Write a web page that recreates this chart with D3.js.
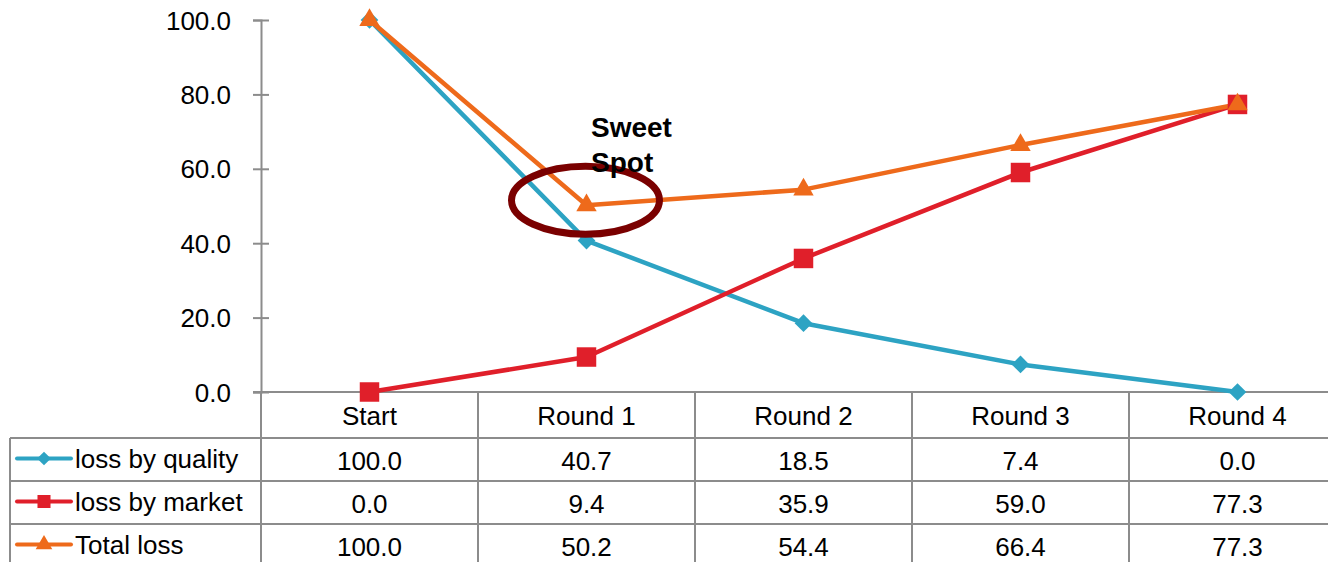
<!DOCTYPE html>
<html>
<head>
<meta charset="utf-8">
<script src="https://cdn.jsdelivr.net/npm/d3@7"></script>
<style>
  html, body { margin: 0; padding: 0; background: #fff; }
  svg { display: block; font-family: "Liberation Sans", Arial, sans-serif; }
</style>
</head>
<body>
<svg id="chart" width="1328" height="562"></svg>
<script>
// Categories and series
const categories = ["Start", "Round 1", "Round 2", "Round 3", "Round 4"];
const lossByQuality = [100.0, 40.7, 18.5, 7.4, 0.0];
const lossByMarket = [0.0, 9.4, 35.9, 59.0, 77.3];
const totalLoss = [100.0, 50.2, 54.4, 66.4, 77.3];
const yTicks = [0, 20, 40, 60, 80, 100];

const seriesList = [
  { name: "loss by quality", values: lossByQuality, color: "#2DA3C3", shape: d3.symbolDiamond2, size: 200, legendSize: 120 },
  { name: "loss by market", values: lossByMarket, color: "#E01F2A", shape: d3.symbolSquare, size: 380, legendSize: 170 },
  { name: "Total loss", values: totalLoss, color: "#EE6A1B", shape: d3.symbolTriangle, size: 180, legendSize: 120 }
];

const FS = 26;
const svg = d3.select("#chart");
const gridColor = "#8c8c8c";

const x = d3.scaleBand().domain(categories).range([261, 1346]);
const y = d3.scaleLinear().domain([0, 100]).range([392, 20]);

// Y axis
const yAxis = d3.axisLeft(y).tickValues(yTicks).tickFormat(d3.format(".1f")).tickSize(8).tickPadding(22);
const gy = svg.append("g").attr("transform", "translate(261,0)").call(yAxis);
gy.select(".domain").attr("stroke", gridColor).attr("stroke-width", 2);
gy.selectAll(".tick line").attr("stroke", gridColor).attr("stroke-width", 2).attr("x1", 8).attr("x2", -8);
gy.selectAll(".tick text").attr("font-size", FS).attr("fill", "#000").attr("dy", "0.35em")
  .attr("font-family", "Liberation Sans, Arial, sans-serif");

// Data table beneath the plot
const rowTops = [392, 438, 481, 524, 567];
const tableLeft = 10;
const tableRight = 1346;

const table = svg.append("g");
rowTops.forEach((t, i) => {
  table.append("line")
    .attr("x1", i === 0 ? 253 : tableLeft).attr("x2", tableRight)
    .attr("y1", t).attr("y2", t)
    .attr("stroke", gridColor).attr("stroke-width", 2);
});
categories.forEach(c => {
  table.append("line")
    .attr("x1", x(c)).attr("x2", x(c))
    .attr("y1", 392).attr("y2", 567)
    .attr("stroke", gridColor).attr("stroke-width", 2);
});
table.append("line")
  .attr("x1", tableLeft).attr("x2", tableLeft)
  .attr("y1", rowTops[1]).attr("y2", 567)
  .attr("stroke", gridColor).attr("stroke-width", 2);

// header labels
table.selectAll("text.cat").data(categories).join("text")
  .attr("class", "cat")
  .attr("x", d => x(d) + x.bandwidth() / 2)
  .attr("y", 425)
  .attr("text-anchor", "middle")
  .attr("font-size", FS)
  .text(d => d);

// series rows
seriesList.forEach((s, i) => {
  const cy = (rowTops[i + 1] + rowTops[i + 2]) / 2;
  const row = table.append("g");
  row.append("line")
    .attr("x1", 17).attr("x2", 71).attr("y1", cy - 1).attr("y2", cy - 1)
    .attr("stroke", s.color).attr("stroke-width", 4).attr("stroke-linecap", "round");
  row.append("path")
    .attr("d", d3.symbol(s.shape, s.legendSize)())
    .attr("transform", `translate(44,${cy - 1})`)
    .attr("fill", s.color);
  row.append("text")
    .attr("x", 75).attr("y", cy + 8)
    .attr("font-size", FS)
    .text(s.name);
  row.selectAll("text.val").data(s.values).join("text")
    .attr("class", "val")
    .attr("x", (d, j) => x(categories[j]) + x.bandwidth() / 2)
    .attr("y", cy + 10)
    .attr("text-anchor", "middle")
    .attr("font-size", FS)
    .text(d => d3.format(".1f")(d));
});

// Lines and markers
const line = d3.line()
  .x((d, j) => x(categories[j]) + x.bandwidth() / 2)
  .y(d => y(d));

seriesList.forEach(s => {
  svg.append("path")
    .datum(s.values)
    .attr("d", line)
    .attr("fill", "none")
    .attr("stroke", s.color)
    .attr("stroke-width", 4.5)
    .attr("stroke-linejoin", "round");
});
seriesList.forEach(s => {
  svg.append("g").selectAll("path").data(s.values).join("path")
    .attr("d", d3.symbol(s.shape, s.size)())
    .attr("transform", (d, j) => `translate(${x(categories[j]) + x.bandwidth() / 2},${y(d)})`)
    .attr("fill", s.color);
});

// Sweet spot annotation
const spotX = x("Round 1") + x.bandwidth() / 2;
const spotY = y(totalLoss[1]);
svg.append("ellipse")
  .attr("cx", spotX - 1).attr("cy", spotY - 5)
  .attr("rx", 74).attr("ry", 34)
  .attr("fill", "none")
  .attr("stroke", "#7A0000")
  .attr("stroke-width", 7);

const note = svg.append("text")
  .attr("x", 591).attr("y", 137)
  .attr("font-size", 28).attr("font-weight", "bold");
note.append("tspan").attr("x", 591).text("Sweet");
note.append("tspan").attr("x", 591).attr("dy", 35).text("Spot");
</script>
</body>
</html>
